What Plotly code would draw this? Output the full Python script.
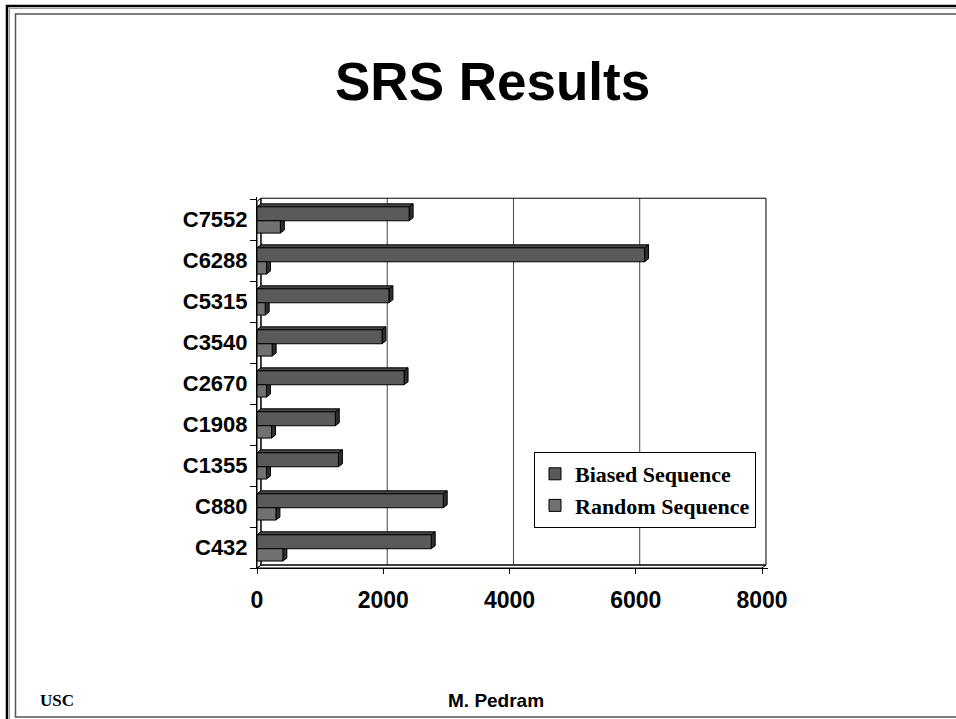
import plotly.graph_objects as go

# ---- data -------------------------------------------------------------
circuits = ["C432", "C880", "C1355", "C1908", "C2670", "C3540", "C5315", "C6288", "C7552"]
biased_seq = [2760, 2950, 1290, 1240, 2330, 1980, 2090, 6140, 2410]
random_seq = [410, 300, 150, 230, 150, 240, 130, 150, 370]
x_ticks = [0, 2000, 4000, 6000, 8000]
series_names = ["Biased Sequence", "Random Sequence"]

# ---- geometry / style -------------------------------------------------
W, H = 956, 719
ML, MR, MT, MB = 257, 188, 197, 151
PW = W - ML - MR
PH = H - MT - MB
X_MAX = 8000 * PW / 505.0
Y_MIN, Y_MAX = -0.5, 8.55
WALL_TOP = 8.52
DX = 63          # depth of the 3-D effect along x (data units)
DY = 0.073       # depth of the 3-D effect along y (category units)

BIASED_COLOR = "#5a5a5a"
RANDOM_COLOR = "#717171"
TOP_FACE = "#474747"
END_FACE = "#2e2e2e"

SANS = "Liberation Sans, Arial, sans-serif"
SERIF = "Liberation Serif, Times New Roman, serif"


def paper_x(px):
    return (px - ML) / PW


def paper_y(py):
    return (H - MB - py) / PH


ypos = list(range(len(circuits)))
bars = [
    # name, values, colour, offset, width
    (series_names[0], biased_seq, BIASED_COLOR, -0.03, 0.34),
    (series_names[1], random_seq, RANDOM_COLOR, -0.33, 0.30),
]

fig = go.Figure()
for name, vals, color, off, wid in bars:
    fig.add_trace(go.Bar(
        x=vals, y=ypos, orientation="h", name=name,
        offset=off, width=wid,
        marker=dict(color=color, line=dict(color="black", width=1)),
        legendgroup=name,
    ))

shapes = []
# floor and side wall of the 3-D frame
shapes.append(dict(type="path", xref="x", yref="y", layer="below",
                   path=f"M0,{Y_MIN} L{x_ticks[-1]},{Y_MIN} L{x_ticks[-1]+DX},{Y_MIN+DY} L{DX},{Y_MIN+DY} Z",
                   fillcolor="white", line=dict(color="black", width=1)))
shapes.append(dict(type="path", xref="x", yref="y", layer="below",
                   path=f"M0,{Y_MIN} L{DX},{Y_MIN+DY} L{DX},{WALL_TOP} L0,{WALL_TOP-DY} Z",
                   fillcolor="#f2f2f2", line=dict(color="black", width=1)))
# back wall with gridlines
for t in x_ticks[1:-1]:
    shapes.append(dict(type="line", xref="x", yref="y", layer="below",
                       x0=t + DX, x1=t + DX, y0=Y_MIN + DY, y1=WALL_TOP,
                       line=dict(color="#444444", width=1)))
shapes.append(dict(type="rect", xref="x", yref="y", layer="below",
                   x0=DX, x1=x_ticks[-1] + DX, y0=Y_MIN + DY, y1=WALL_TOP,
                   line=dict(color="black", width=1)))

# top and end faces of every bar
for name, vals, color, off, wid in bars:
    for y, v in zip(ypos, vals):
        top = y + off + wid
        bot = y + off
        shapes.append(dict(type="path", xref="x", yref="y", layer="below",
                           path=f"M0,{top} L{DX},{top+DY} L{v+DX},{top+DY} L{v},{top} Z",
                           fillcolor=TOP_FACE, line=dict(color="black", width=1)))
        shapes.append(dict(type="path", xref="x", yref="y", layer="below",
                           path=f"M{v},{bot} L{v},{top} L{v+DX},{top+DY} L{v+DX},{bot+DY} Z",
                           fillcolor=END_FACE, line=dict(color="black", width=1)))

# slide frame (open to the right and bottom, like a cropped slide)
shapes.append(dict(type="rect", xref="paper", yref="paper", layer="above",
                   x0=paper_x(7), x1=paper_x(W + 200), y0=paper_y(H + 200), y1=paper_y(6),
                   line=dict(color="black", width=2.5)))
shapes.append(dict(type="rect", xref="paper", yref="paper", layer="above",
                   x0=paper_x(9.5), x1=paper_x(W + 200), y0=paper_y(H + 200), y1=paper_y(8.5),
                   line=dict(color="#9a9a9a", width=1)))
shapes.append(dict(type="rect", xref="paper", yref="paper", layer="above",
                   x0=paper_x(15.5), x1=paper_x(W + 200), y0=paper_y(717), y1=paper_y(14),
                   line=dict(color="#555555", width=1.5)))

annotations = [
    dict(text="SRS Results", xref="paper", yref="paper", x=paper_x(492), y=paper_y(81),
         xanchor="center", yanchor="middle", showarrow=False,
         font=dict(family=SANS, size=53, color="black", weight="bold")),
    dict(text="USC", xref="paper", yref="paper", x=paper_x(38), y=paper_y(700),
         xanchor="left", yanchor="middle", showarrow=False,
         font=dict(family=SERIF, size=17, color="black", weight="bold")),
    dict(text="M. Pedram", xref="paper", yref="paper", x=paper_x(496), y=paper_y(700),
         xanchor="center", yanchor="middle", showarrow=False,
         font=dict(family=SANS, size=19, color="black", weight="bold")),
]

fig.update_layout(
    width=W, height=H,
    margin=dict(l=ML, r=MR, t=MT, b=MB, pad=0),
    paper_bgcolor="white", plot_bgcolor="white",
    barmode="overlay",
    shapes=shapes, annotations=annotations,
    showlegend=True,
    legend=dict(x=paper_x(534), y=paper_y(452), xanchor="left", yanchor="top",
                bgcolor="white", bordercolor="black", borderwidth=1,
                font=dict(family=SERIF, size=22, color="black", weight="bold"),
                tracegroupgap=0, traceorder="normal", itemwidth=30),
    xaxis=dict(range=[0, X_MAX], tickvals=x_ticks, ticktext=[str(t) for t in x_ticks],
               showgrid=False, zeroline=False, showline=True, linecolor="black", linewidth=1,
               ticks="outside", ticklen=5, tickcolor="black", ticklabelstandoff=6,
               tickfont=dict(family=SANS, size=23, color="black", weight="bold")),
    yaxis=dict(range=[Y_MIN, Y_MAX], tickvals=ypos, ticktext=circuits,
               showgrid=False, zeroline=False, showline=True, linecolor="black", linewidth=1,
               ticks="", ticklabelstandoff=4,
               minor=dict(tickvals=[i - 0.5 for i in range(len(circuits) + 1)],
                          ticks="outside", ticklen=6, tickcolor="black", showgrid=False),
               tickfont=dict(family=SANS, size=22, color="black", weight="bold")),
)

fig.write_html("out.html")
